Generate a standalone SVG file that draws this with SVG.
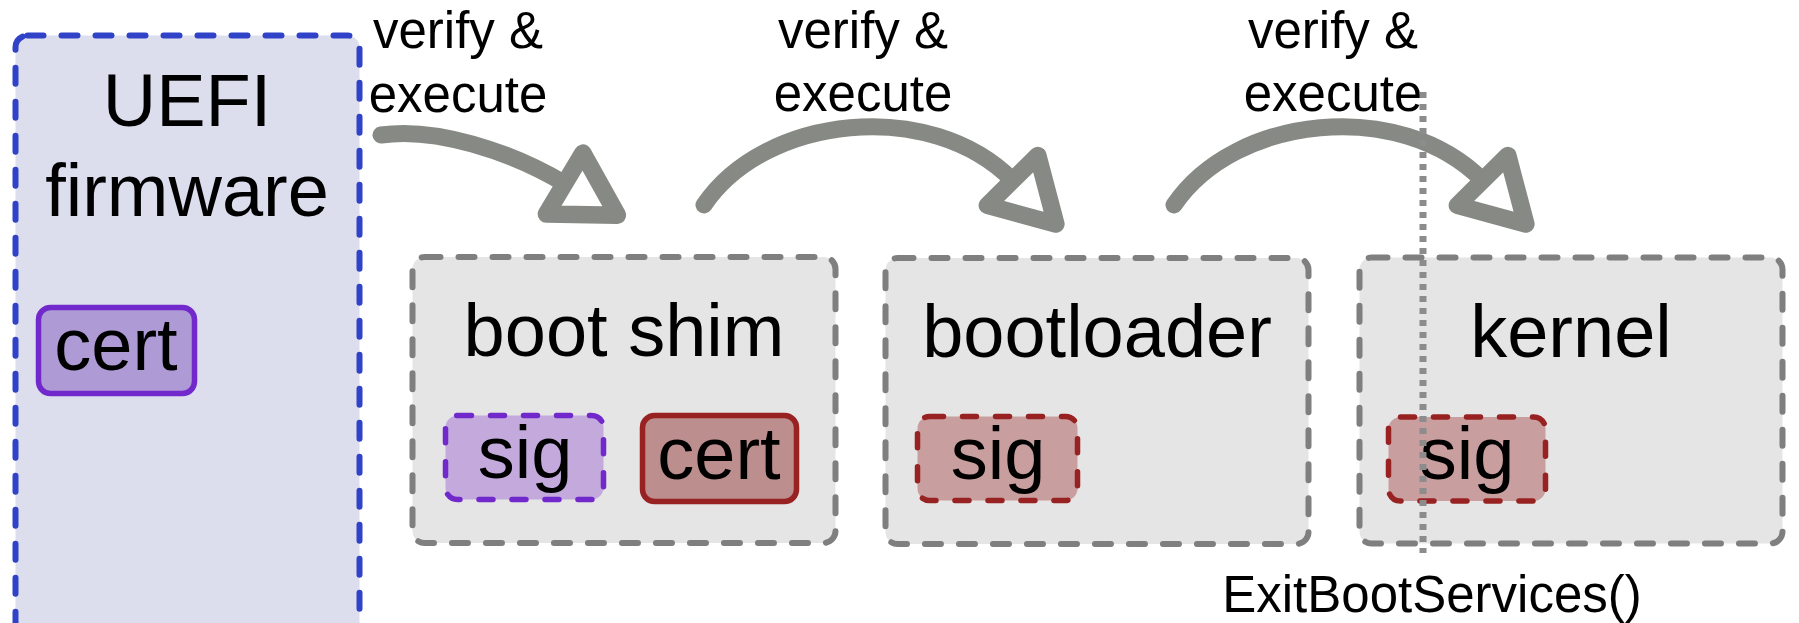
<svg xmlns="http://www.w3.org/2000/svg" width="1799" height="623" viewBox="0 0 1799 623">
  <style>
    text { font-family: "Liberation Sans", Arial, sans-serif; fill: #000; text-anchor: middle; }
    .big { font-size: 74px; }
    .small { font-size: 51px; }
    .stage { fill: #e5e5e5; stroke: #7f7f7f; stroke-width: 6; stroke-dasharray: 16 18; stroke-linecap: round; }
    .firmware { fill: #dcdeee; stroke: #3043c8; stroke-width: 6; stroke-dasharray: 16 18; stroke-linecap: round; }
    .cert-fw { fill: #ae9ad4; stroke: #7229cc; stroke-width: 5.5; }
    .sig-fw { fill: #c3a9dc; stroke: #7229cc; stroke-width: 5.5; stroke-dasharray: 14 19; stroke-linecap: round; }
    .cert-own { fill: #bc8e8e; stroke: #982222; stroke-width: 5.5; }
    .sig-own { fill: #c99e9e; stroke: #982222; stroke-width: 5.5; stroke-dasharray: 14 19; stroke-linecap: round; }
    .flow { fill: none; stroke: #878a84; stroke-width: 17; stroke-linecap: round; marker-end: url(#head); }
    .boundary { stroke: #8c8c8c; stroke-width: 7; stroke-dasharray: 6 6; }
  </style>
  <defs>
    <marker id="head" markerUnits="userSpaceOnUse" orient="auto" markerWidth="140" markerHeight="140" viewBox="-30 -70 140 140" refX="0" refY="0" overflow="visible">
      <path d="M0,-35.5 L61.5,0 L0,35.5 Z" fill="#fff" stroke="#878a84" stroke-width="17.5" stroke-linejoin="round"/>
    </marker>
  </defs>

  <!-- firmware column -->
  <g id="uefi">
    <rect class="firmware" x="15.5" y="35.5" width="344" height="680" rx="12"/>
    <text class="big" x="187" y="126">UEFI</text>
    <text class="big" x="187" y="216">firmware</text>
    <rect class="cert-fw" x="38.5" y="307.5" width="156" height="86" rx="12"/>
    <text class="big" x="116" y="370">cert</text>
  </g>

  <!-- boot chain stages -->
  <g id="shim">
    <rect class="stage" x="412.5" y="257" width="423" height="286" rx="12"/>
    <text class="big" x="624" y="356">boot shim</text>
    <rect class="sig-fw" x="445.5" y="415.5" width="158" height="84" rx="12"/>
    <text class="big" x="525" y="478">sig</text>
    <rect class="cert-own" x="642.5" y="415.5" width="154" height="86" rx="12"/>
    <text class="big" x="719" y="479">cert</text>
  </g>

  <g id="bootloader">
    <rect class="stage" x="885.5" y="258" width="423" height="286" rx="12"/>
    <text class="big" x="1097" y="357">bootloader</text>
    <rect class="sig-own" x="917.5" y="416.5" width="160" height="84" rx="12"/>
    <text class="big" x="998" y="479">sig</text>
  </g>

  <g id="kernel">
    <rect class="stage" x="1359.5" y="257.5" width="423" height="286" rx="12"/>
    <text class="big" x="1571" y="357">kernel</text>
    <rect class="sig-own" x="1388.5" y="417" width="157" height="84" rx="12"/>
    <text class="big" x="1467" y="479">sig</text>
  </g>

  <!-- verify & execute hand-offs -->
  <g id="connectors">
    <path class="flow" d="M381,135 C435,127 510,151 564.6,183.6"/>
    <path class="flow" d="M704,205 C765,115 930,97 1012.6,180.4"/>
    <path class="flow" d="M1174,205 C1235,115 1400,97 1482.6,180.4"/>
    <text class="small" x="458" y="48">verify &amp;</text>
    <text class="small" x="458" y="112">execute</text>
    <text class="small" x="863" y="48">verify &amp;</text>
    <text class="small" x="863" y="111">execute</text>
    <text class="small" x="1333" y="48">verify &amp;</text>
    <text class="small" x="1333" y="111">execute</text>
  </g>

  <!-- boot services boundary -->
  <g id="exit-boot-services">
    <line class="boundary" x1="1423" y1="92" x2="1423" y2="553"/>
    <text class="small" x="1432" y="612">ExitBootServices()</text>
  </g>
</svg>
